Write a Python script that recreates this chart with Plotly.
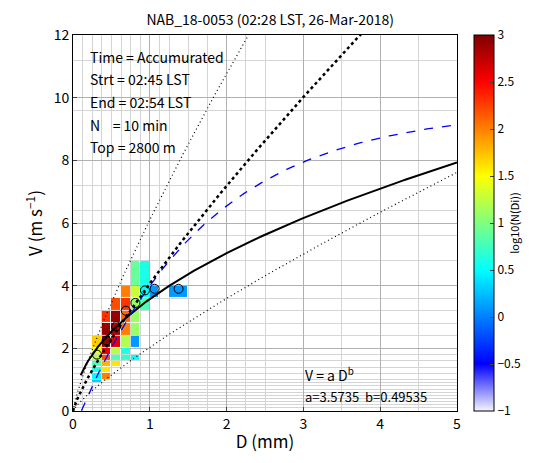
import numpy as np
import plotly.graph_objects as go

# Parsivel bin edges
d_edges = [0, 0.125, 0.25, 0.375, 0.5, 0.625, 0.75, 0.875, 1.0, 1.125, 1.25,
           1.5, 1.75, 2.0, 2.25, 2.5, 3.0, 3.5, 4.0, 4.5, 5.0]
v_edges = [0, 0.1, 0.2, 0.3, 0.4, 0.5, 0.6, 0.7, 0.8, 0.9, 1.0,
           1.2, 1.4, 1.6, 1.8, 2.0, 2.4, 2.8, 3.2, 3.6, 4.0,
           4.8, 5.6, 6.4, 7.2, 8.0, 9.6, 11.2, 12.8]

# occupied cells: lower D edge, lower V edge, log10(N)
cell_d = [0.25, 0.25, 0.25, 0.25, 0.25, 0.25, 0.25,
          0.375, 0.375, 0.375, 0.375, 0.375, 0.375, 0.375, 0.375,
          0.5, 0.5, 0.5, 0.5, 0.5, 0.5, 0.5,
          0.625, 0.625, 0.625, 0.625, 0.625, 0.625, 0.625,
          0.75, 0.75, 0.75, 0.75, 0.75, 0.75, 0.75,
          0.875, 0.875, 0.875, 1.0, 1.25]
cell_v = [2.0, 1.8, 1.6, 1.4, 1.2, 1.0, 0.9,
          2.8, 2.4, 2.0, 1.8, 1.6, 1.4, 1.2, 1.0,
          3.2, 2.8, 2.4, 2.0, 1.8, 1.6, 1.4,
          3.6, 3.2, 2.8, 2.4, 2.0, 1.8, 1.6,
          4.0, 3.6, 3.2, 2.8, 2.4, 2.0, 1.6,
          4.0, 3.6, 3.2, 3.6, 3.6]
cell_n = [1.7, 1.4, 1.2, 0.8, 0.6, 0.5, 0.3,
          2.3, 2.9, 2.9, 2.6, 2.2, 1.8, 1.6, 2.0,
          2.2, 2.9, 2.8, 2.6, 1.2, 0.8, 1.6,
          2.0, 2.3, 2.1, 2.0, 1.2, 0.6, 0.7,
          0.9, 1.3, 1.1, 1.1, 1.1, 0.1, 0.5,
          0.6, 0.5, 0.8, 0.1, 0.1]

# median velocity per diameter bin
med_d = [0.3125, 0.4375, 0.5625, 0.6875, 0.8125, 0.9375, 1.0625, 1.375]
med_v = [1.8, 2.25, 2.7, 3.2, 3.45, 3.85, 3.9, 3.9]

fit_a, fit_b = 3.5735, 0.49535

z = np.full((len(v_edges) - 1, len(d_edges) - 1), np.nan)
for d, v, n in zip(cell_d, cell_v, cell_n):
    z[v_edges.index(v), d_edges.index(d)] = n

cscale = [[0, "rgb(245,245,255)"], [0.125, "rgb(0,0,255)"], [0.25, "rgb(0,128,255)"],
          [0.375, "rgb(0,255,255)"], [0.5, "rgb(128,255,128)"], [0.625, "rgb(255,255,0)"],
          [0.75, "rgb(255,128,0)"], [0.875, "rgb(255,0,0)"], [1, "rgb(128,0,0)"]]

font = "Noto Sans CJK JP"
fig = go.Figure()
fig.add_trace(go.Heatmap(x=d_edges, y=v_edges, z=z, zmin=-1, zmax=3, colorscale=cscale,
                         xgap=1, ygap=1, hoverongaps=False,
                         colorbar=dict(x=1.044, xanchor="left", y=0, yanchor="bottom", len=1,
                                       xpad=0, ypad=0,
                                       thickness=20, outlinecolor="black", outlinewidth=1,
                                       tickvals=[-1, -0.5, 0, 0.5, 1, 1.5, 2, 2.5, 3],
                                       ticktext=["−1", "−0.5", "0", "0.5", "1", "1.5", "2", "2.5", "3"],
                                       ticks="inside", ticklen=4,
                                       title=dict(text="log10(N(Di))", side="right",
                                                  font=dict(size=11)),
                                       tickfont=dict(size=12))))

dd = np.linspace(0.1, 5, 200)
fig.add_trace(go.Scatter(x=dd, y=fit_a * dd ** fit_b, mode="lines",
                         line=dict(color="black", width=2)))
db = np.linspace(0.11, 5, 200)
fig.add_trace(go.Scatter(x=db, y=9.65 - 10.3 * np.exp(-0.6 * db), mode="lines",
                         line=dict(color="blue", width=1.3, dash="dash")))
d0 = np.linspace(0, 5, 300)
fig.add_trace(go.Scatter(x=d0, y=4.07 * d0 ** 0.82, mode="lines",
                         line=dict(color="black", width=2.5, dash="dot")))
fig.add_trace(go.Scatter(x=d0, y=1.5 * 4.07 * d0 ** 0.82, mode="lines",
                         line=dict(color="black", width=1.2, dash="1px,3px")))
fig.add_trace(go.Scatter(x=d0, y=0.5 * 4.07 * d0 ** 0.82, mode="lines",
                         line=dict(color="black", width=1.2, dash="1px,3px")))
fig.add_trace(go.Scatter(x=med_d, y=med_v, mode="markers",
                         marker=dict(symbol="circle-open", size=9, color="black",
                                     line=dict(width=1))))

info = ["Time = Accumurated", "Strt = 02:45 LST", "End = 02:54 LST", "N    = 10 min", "Top = 2800 m"]
for i, s in enumerate(info):
    fig.add_annotation(x=0.2, y=11.3 - 0.72 * i, xref="x", yref="y", xanchor="left",
                       text=s, showarrow=False, font=dict(size=14, family=font, color="black"))
fig.add_annotation(x=3.0, y=1.15, text="V = a D<sup>b</sup>", showarrow=False,
                   xanchor="left", font=dict(size=14, family=font, color="black"))
fig.add_annotation(x=3.0, y=0.45, text=f"a={fit_a}  b={fit_b}", showarrow=False,
                   xanchor="left", font=dict(size=13, family=font, color="black"))

fig.update_layout(
    width=552, height=455, margin=dict(l=65, r=103, t=27, b=52),
    plot_bgcolor="white", paper_bgcolor="white", showlegend=False,
    font=dict(family=font, size=14, color="black"),
    title=dict(text="NAB_18-0053 (02:28 LST, 26-Mar-2018)", x=0.475, xanchor="center",
               y=0.985, yanchor="top", font=dict(size=14)),
    xaxis=dict(range=[0, 5], tickvals=[0, 1, 2, 3, 4, 5], showline=True, linecolor="black",
               mirror=True, ticks="inside", ticklen=4, zeroline=False, automargin=False,
               showgrid=True, gridcolor="#b0b0b0",
               minor=dict(tickmode="array", tickvals=d_edges, showgrid=True, gridcolor="#d4d4d4"),
               title=dict(text="D (mm)", standoff=4)),
    yaxis=dict(range=[0, 12], tickvals=[0, 2, 4, 6, 8, 10, 12], showline=True, linecolor="black",
               mirror=True, ticks="inside", ticklen=4, zeroline=False, automargin=False,
               showgrid=True, gridcolor="#b0b0b0",
               minor=dict(tickmode="array", tickvals=v_edges, showgrid=True, gridcolor="#d4d4d4"),
               title=dict(text="V (m s<sup>−1</sup>)", standoff=6)),
)
fig.write_html("out.html")
